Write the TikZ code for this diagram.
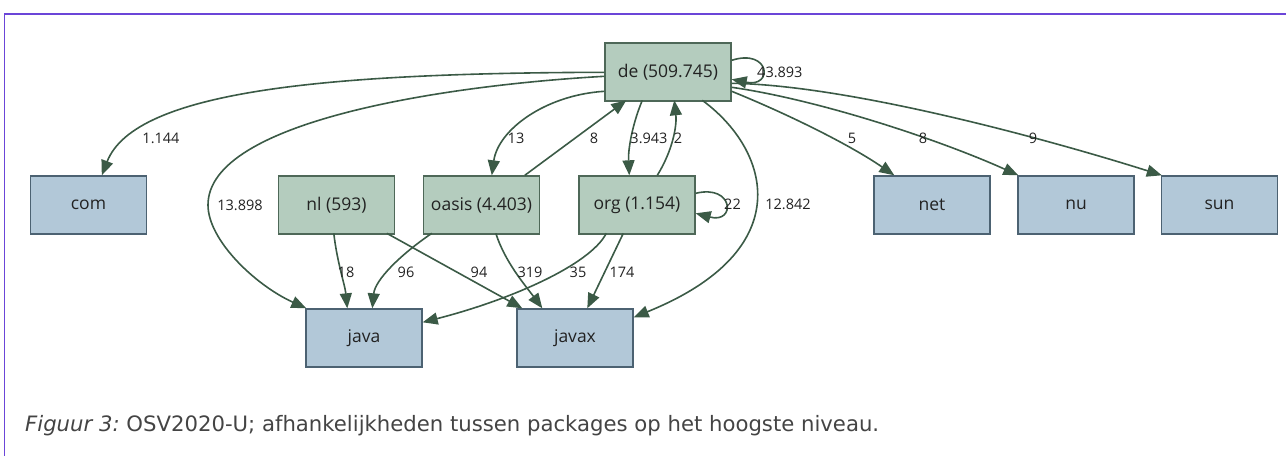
\documentclass[tikz,border=0pt]{standalone}
\usepackage{fontspec}
\setmainfont{Open Sans}
\newfontfamily\capfont{DejaVu Sans}
\usetikzlibrary{arrows.meta,calc}

\definecolor{frameline}{HTML}{6B45D8}
\definecolor{grnfill}{HTML}{B4CCBE}
\definecolor{grnline}{HTML}{4E6858}
\definecolor{blufill}{HTML}{B2C8D8}
\definecolor{bluline}{HTML}{4C6272}
\definecolor{edgecol}{HTML}{3B5A46}
\definecolor{txt}{HTML}{222222}
\definecolor{captxt}{HTML}{444444}

\tikzset{
  pkg/.style={rectangle, draw=grnline, fill=grnfill, line width=1.4pt,
    minimum width=116pt, minimum height=58pt, inner sep=0pt,
    text=txt, font=\fontsize{17.5}{20}\selectfont},
  leaf/.style={pkg, draw=bluline, fill=blufill},
  dep/.style={draw=edgecol, line width=1.6pt,
    -{Triangle[length=15pt,width=12pt]}},
  lbl/.style={inner sep=0pt, text=txt, font=\fontsize{14.5}{16}\selectfont},
}

\begin{document}
\begin{tikzpicture}[x=1pt,y=-1pt]
\useasboundingbox (0,0) rectangle (1286,456);

% page frame
\draw[frameline, line width=2pt] (4,14) -- (1286,14);
\draw[frameline, line width=1pt] (4.5,14) -- (4.5,456);

% packages
\node[pkg, minimum width=126pt] (de) at (668,72) {de (509.745)};
\node[leaf]  (com)   at (88.5,205)  {com};
\node[pkg]   (nl)    at (336.5,205) {nl (593)};
\node[pkg]   (oasis) at (481.5,205) {oasis (4.403)};
\node[pkg]   (org)   at (637,205)   {org (1.154)};
\node[leaf]  (net)   at (932,205)   {net};
\node[leaf]  (nu)    at (1076,205)  {nu};
\node[leaf]  (sun)   at (1219.5,205){sun};
\node[leaf]  (java)  at (364,338)   {java};
\node[leaf]  (javax) at (575,338)   {javax};

% dependencies leaving de
\draw[dep] ($(de.north west)+(0,30)$) .. controls (330,73) and (135,90) .. ($(com.north west)+(72,0)$);
\draw[dep] ($(de.north west)+(0,34)$) .. controls (450,85) and (208,120) .. (208,205)
           .. controls (208,240) and (255,285) .. ($(java.north west)+(1,0)$);
\draw[dep] ($(de.north west)+(0,49)$) .. controls (545,95) and (498,130) .. ($(oasis.north west)+(69,0)$);
\draw[dep] ($(oasis.north west)+(102,0)$) -- ($(de.north west)+(22,58)$);
\draw[dep] ($(de.north west)+(38,58)$) .. controls (632,125) and (628,150) .. ($(org.north west)+(51,0)$);
\draw[dep] ($(org.north west)+(79,0)$) .. controls (673,150) and (677,125) .. ($(de.north west)+(70,58)$);
\draw[dep] ($(de.north west)+(98,58)$) .. controls (770,150) and (800,250) .. ($(javax.north east)+(0,9)$);
\draw[dep] ($(de.north east)+(0,18)$) .. controls (770,48) and (774,88) .. ($(de.north east)+(0,37)$);
\draw[dep] ($(de.north east)+(0,49)$) .. controls (790,115) and (850,145) .. ($(net.north west)+(21,0)$);
\draw[dep] ($(de.north east)+(0,45)$) .. controls (820,100) and (940,140) .. ($(nu.north west)+(1,0)$);
\draw[dep] ($(de.north east)+(0,41)$) .. controls (850,85) and (1050,140) .. ($(sun.north west)+(1,0)$);

% dependencies leaving org
\draw[dep] ($(org.north east)+(0,18)$) .. controls (734,184) and (736,224) .. ($(org.north east)+(0,38)$);
\draw[dep] ($(org.north west)+(28,58)$) .. controls (590,265) and (510,300) .. ($(java.north east)+(0,14)$);
\draw[dep] ($(org.north west)+(45,58)$) -- ($(javax.north west)+(71,0)$);

% dependencies leaving nl and oasis
\draw[dep] ($(nl.north west)+(56,58)$) .. controls (337,262) and (345,285) .. ($(java.north west)+(42,0)$);
\draw[dep] ($(nl.north west)+(109,58)$) -- ($(javax.north west)+(6,0)$);
\draw[dep] ($(oasis.north west)+(9,58)$) .. controls (400,255) and (375,280) .. ($(java.north west)+(67,0)$);
\draw[dep] ($(oasis.north west)+(73,58)$) .. controls (505,262) and (525,285) .. ($(javax.north west)+(26,0)$);

% edge weights
\node[lbl] (w-com)    at (161,138) {1.144};
\node[lbl] (w-java)   at (240,205) {13.898};
\node[lbl] (w-oasis)  at (516,138) {13};
\node[lbl] (w-back1)  at (594,138) {8};
\node[lbl] (w-org)    at (649,138) {3.943};
\node[lbl] (w-back2)  at (678,138) {2};
\node[lbl] (w-javax)  at (788,204) {12.842};
\node[lbl, anchor=west] (w-self) at (757,72) {43.893};
\node[lbl] (w-net)    at (852,138) {5};
\node[lbl] (w-nu)     at (923,138) {8};
\node[lbl] (w-sun)    at (1033,138) {9};
\node[lbl, anchor=west] (w-orgself) at (724,204) {22};
\node[lbl] (w-nl1)    at (346,272) {18};
\node[lbl] (w-oa1)    at (406,272) {96};
\node[lbl] (w-nl2)    at (479,272) {94};
\node[lbl] (w-oa2)    at (530,272) {319};
\node[lbl] (w-org1)   at (578,272) {35};
\node[lbl] (w-org2)   at (622,272) {174};

% caption
\node[anchor=west, inner sep=0pt, text=captxt, font=\capfont\fontsize{21.2}{24}\selectfont]
  (caption) at (25,426) {\textit{Figuur 3:}\ OSV2020-U; afhankelijkheden tussen packages op het hoogste niveau.};
\end{tikzpicture}
\end{document}
